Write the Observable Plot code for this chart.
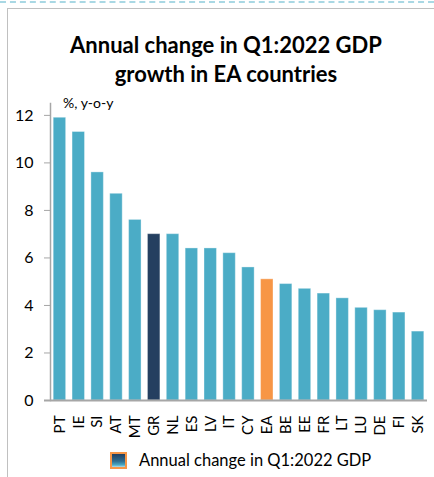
<!DOCTYPE html>
<html>
<head>
<meta charset="utf-8">
<script src="https://cdn.jsdelivr.net/npm/d3@7"></script>
<script src="https://cdn.jsdelivr.net/npm/@observablehq/plot@0.6"></script>
<style>
  html, body { margin: 0; padding: 0; background: #fff; }
  #wrap { position: relative; width: 434px; height: 477px; overflow: hidden; font-family: Lato, "Open Sans", sans-serif; color: #000; }
  #dash { position: absolute; left: 0; top: 1px; width: 434px; height: 0; border-top: 2px dashed #a9d8e4; }
  #box { position: absolute; left: 7px; top: 8px; width: 440px; height: 480px; border-left: 1px solid #c0c0c0; border-top: 1px solid #c0c0c0; }
  #title { position: absolute; left: 0; width: 452px; top: 30px; text-align: center; font-weight: 700; font-size: 22px; line-height: 29px; }
  #unit { position: absolute; left: 63px; top: 94px; font-size: 14px; }
  #chart { position: absolute; left: 0; top: 90px; }
  #legend { position: absolute; left: 110px; top: 450px; display: flex; align-items: center; font-size: 16.5px; }
  #swatch { width: 13px; height: 13px; border: 2px solid #f79646; background: linear-gradient(#243f60 0%, #2f6d8f 55%, #4bacc6 85%, #b7dde8 100%); margin-right: 12px; }
</style>
</head>
<body>
<div id="wrap">
  <div id="dash"></div>
  <div id="box"></div>
  <div id="title">Annual change in Q1:2022 GDP<br>growth in EA countries</div>
  <div id="chart"></div>
  <div id="unit">%, y-o-y</div>
  <div id="legend"><div id="swatch"></div><span>Annual change in Q1:2022 GDP</span></div>
</div>
<script>
const countries = ["PT","IE","SI","AT","MT","GR","NL","ES","LV","IT","CY","EA","BE","EE","FR","LT","LU","DE","FI","SK"];
const values    = [11.9, 11.3, 9.6, 8.7, 7.6, 7.0, 7.0, 6.4, 6.4, 6.2, 5.6, 5.1, 4.9, 4.7, 4.5, 4.3, 3.9, 3.8, 3.7, 2.9];
const yTicks    = [0, 2, 4, 6, 8, 10, 12];
const colorOf = c => c === "GR" ? "#243f60" : c === "EA" ? "#f79646" : "#4bacc6";

const data = countries.map((c, i) => ({country: c, value: values[i]}));
const axisColor = "#a6a6a6";

const chart = Plot.plot({
  width: 434,
  height: 350,
  marginLeft: 50,
  marginRight: 7,
  marginTop: 13,
  marginBottom: 40,
  style: {fontFamily: "Lato, 'Open Sans', sans-serif", background: "transparent", color: "#000"},
  x: {domain: countries, paddingInner: 0.34, paddingOuter: 0.17, round: false, axis: null},
  y: {domain: [0, 12.5], axis: null, label: null},
  marks: [
    Plot.barY(data, {x: "country", y: "value", fill: d => colorOf(d.country), stroke: "#ffffff", strokeOpacity: 0.35, strokeWidth: 1}),
    Plot.frame({anchor: "left", stroke: axisColor, strokeWidth: 1.5}),
    Plot.ruleY([0], {stroke: axisColor, strokeWidth: 2, insetLeft: -6}),
    Plot.axisY(yTicks, {ticks: yTicks, tickSize: 6, tickPadding: 11, stroke: axisColor, fontSize: 16, fill: "#000", label: null}),
    Plot.text(countries, {x: d => d, y: 0, text: d => d, rotate: -90, textAnchor: "end", lineAnchor: "middle", dy: 15, fontSize: 15, fill: "#000"})
  ]
});
document.getElementById("chart").appendChild(chart);
</script>
</body>
</html>
